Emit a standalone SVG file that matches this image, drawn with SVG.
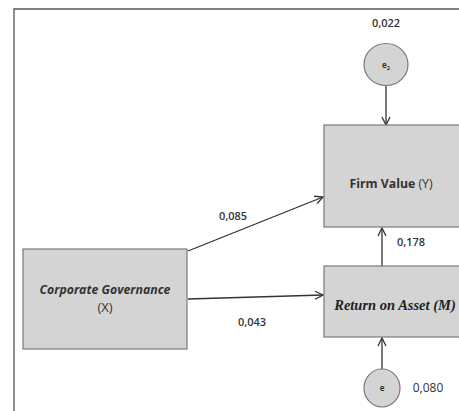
<svg xmlns="http://www.w3.org/2000/svg" width="459" height="411" viewBox="0 0 459 411">
<style>
.box{fill:#d4d4d4;stroke:#7a7a7a;stroke-width:1.2}
.circ{fill:#d4d4d4;stroke:#7a7a7a;stroke-width:1.2}
.lbl{font-family:"Open Sans","Liberation Sans",sans-serif;font-size:12.3px;font-weight:bold;fill:#333;text-anchor:middle}
.num{font-family:"Open Sans","Liberation Sans",sans-serif;font-size:11px;font-weight:600;fill:#333;text-anchor:middle}
.conn{stroke:#333;stroke-width:1.3;fill:none;marker-end:url(#arr)}
</style>
<defs>
<marker id="arr" markerWidth="10" markerHeight="10" refX="9" refY="5" orient="auto" markerUnits="userSpaceOnUse">
<path d="M1,1 L9,5 L1,9" fill="none" stroke="#333" stroke-width="1.3"/>
</marker>
</defs>
<rect width="459" height="411" fill="#fff"/>
<path d="M14,411 L14,9 L470,9" fill="none" stroke="#555" stroke-width="1.3"/>
<g id="connectors">
<line class="conn" x1="386" y1="85" x2="386" y2="125"/>
<line class="conn" x1="188" y1="251" x2="323" y2="197"/>
<line class="conn" x1="188" y1="299" x2="323" y2="295"/>
<line class="conn" x1="382" y1="266" x2="382" y2="228"/>
<line class="conn" x1="382" y1="369" x2="382" y2="338"/>
<text class="num" x="386" y="27">0,022</text>
<text class="num" x="233" y="220">0,085</text>
<text class="num" x="252" y="326">0,043</text>
<text class="num" x="411" y="246">0,178</text>
<text class="num" x="428" y="392" style="font-weight:normal;font-size:12px">0,080</text>
</g>
<g id="e2">
<ellipse class="circ" cx="386" cy="64.5" rx="22" ry="21"/>
<text x="386" y="68" font-family="Open Sans, Liberation Sans, sans-serif" font-size="8" font-weight="bold" fill="#333" text-anchor="middle">e<tspan font-size="5.5" dy="2">2</tspan></text>
</g>
<g id="firm-value">
<rect class="box" x="324" y="125" width="150" height="102"/>
<text class="lbl" x="391" y="188">Firm Value <tspan style="font-weight:normal">(Y)</tspan></text>
</g>
<g id="roa">
<rect class="box" x="324" y="266" width="150" height="71"/>
<text x="395" y="310" font-family="Liberation Serif, serif" font-size="14.5" font-weight="bold" font-style="italic" fill="#222" text-anchor="middle">Return on Asset (M)</text>
</g>
<g id="cg">
<rect class="box" x="23" y="249" width="164" height="100"/>
<text class="lbl" x="105" y="294" font-style="italic">Corporate Governance</text>
<text class="num" x="105" y="312" style="font-weight:normal;font-size:13px">(X)</text>
</g>
<g id="e">
<ellipse class="circ" cx="382" cy="388" rx="18" ry="19"/>
<text x="382" y="391" font-family="Open Sans, Liberation Sans, sans-serif" font-size="8" font-weight="bold" fill="#333" text-anchor="middle">e</text>
</g>
</svg>
